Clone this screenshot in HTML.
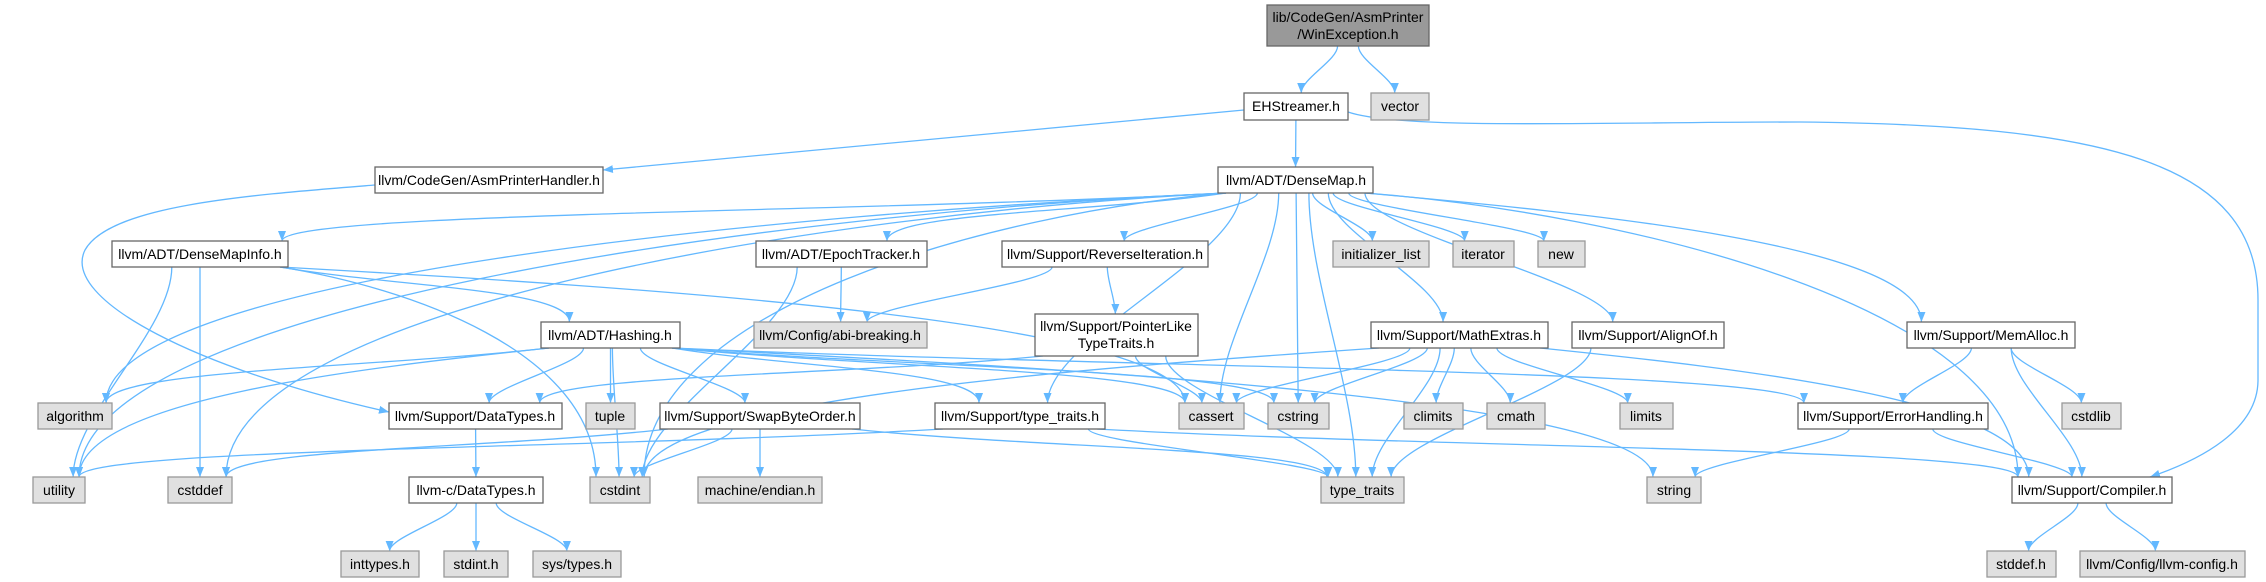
<!DOCTYPE html>
<html><head><meta charset="utf-8"><style>
html,body{margin:0;padding:0;background:#fff;}
svg{display:block;}
text{font-family:"Liberation Sans",Arial,sans-serif;font-size:14px;fill:#000;text-anchor:middle;}
.n{fill:#fff;stroke:#666;stroke-width:1.3;}
.x{fill:#e0e0e0;stroke:#999;stroke-width:1.3;}
.r{fill:#999;stroke:#666;stroke-width:1.3;}
.e{fill:none;stroke:#63b8ff;stroke-width:1.3;}
</style></head><body>
<svg id="g" width="2266" height="582" viewBox="0 0 2266 582" xmlns="http://www.w3.org/2000/svg">
<defs><marker id="a" viewBox="0 0 10 10" refX="10" refY="5" markerWidth="10" markerHeight="10" markerUnits="userSpaceOnUse" orient="auto"><path d="M0,1 L10,5 L0,9 z" fill="#63b8ff"/></marker></defs>
<g id="edges"></g>
<g id="nodes">
<rect class="r" x="1267" y="5" width="162" height="41"/><text x="1348" y="22">lib/CodeGen/AsmPrinter</text><text x="1348" y="39">/WinException.h</text>
<rect class="n" x="1244" y="93" width="104" height="27"/><text x="1296" y="111">EHStreamer.h</text>
<rect class="x" x="1371" y="93" width="58" height="27"/><text x="1400" y="111">vector</text>
<rect class="n" x="375" y="167" width="228" height="26"/><text x="489" y="185">llvm/CodeGen/AsmPrinterHandler.h</text>
<rect class="n" x="1218" y="167" width="155" height="26"/><text x="1296" y="185">llvm/ADT/DenseMap.h</text>
<rect class="n" x="112" y="241" width="176" height="26"/><text x="200" y="259">llvm/ADT/DenseMapInfo.h</text>
<rect class="n" x="756" y="241" width="171" height="26"/><text x="841" y="259">llvm/ADT/EpochTracker.h</text>
<rect class="n" x="1002" y="241" width="206" height="26"/><text x="1105" y="259">llvm/Support/ReverseIteration.h</text>
<rect class="x" x="1333" y="241" width="96" height="26"/><text x="1381" y="259">initializer_list</text>
<rect class="x" x="1453" y="241" width="61" height="26"/><text x="1483" y="259">iterator</text>
<rect class="x" x="1538" y="241" width="47" height="26"/><text x="1561" y="259">new</text>
<rect class="n" x="541" y="322" width="139" height="26"/><text x="610" y="340">llvm/ADT/Hashing.h</text>
<rect class="x" x="754" y="322" width="173" height="26"/><text x="840" y="340">llvm/Config/abi-breaking.h</text>
<rect class="n" x="1035" y="314" width="163" height="42"/><text x="1116" y="331">llvm/Support/PointerLike</text><text x="1116" y="348">TypeTraits.h</text>
<rect class="n" x="1371" y="322" width="177" height="26"/><text x="1459" y="340">llvm/Support/MathExtras.h</text>
<rect class="n" x="1572" y="322" width="152" height="26"/><text x="1648" y="340">llvm/Support/AlignOf.h</text>
<rect class="n" x="1907" y="322" width="168" height="26"/><text x="1991" y="340">llvm/Support/MemAlloc.h</text>
<rect class="x" x="38" y="403" width="74" height="26"/><text x="75" y="421">algorithm</text>
<rect class="n" x="389" y="403" width="173" height="26"/><text x="475" y="421">llvm/Support/DataTypes.h</text>
<rect class="x" x="586" y="403" width="49" height="26"/><text x="610" y="421">tuple</text>
<rect class="n" x="660" y="403" width="200" height="26"/><text x="760" y="421">llvm/Support/SwapByteOrder.h</text>
<rect class="n" x="935" y="403" width="170" height="26"/><text x="1020" y="421">llvm/Support/type_traits.h</text>
<rect class="x" x="1179" y="403" width="65" height="26"/><text x="1211" y="421">cassert</text>
<rect class="x" x="1268" y="403" width="61" height="26"/><text x="1298" y="421">cstring</text>
<rect class="x" x="1404" y="403" width="59" height="26"/><text x="1433" y="421">climits</text>
<rect class="x" x="1487" y="403" width="58" height="26"/><text x="1516" y="421">cmath</text>
<rect class="x" x="1620" y="403" width="53" height="26"/><text x="1646" y="421">limits</text>
<rect class="n" x="1798" y="403" width="190" height="26"/><text x="1893" y="421">llvm/Support/ErrorHandling.h</text>
<rect class="x" x="2062" y="403" width="59" height="26"/><text x="2091" y="421">cstdlib</text>
<rect class="x" x="33" y="477" width="52" height="26"/><text x="59" y="495">utility</text>
<rect class="x" x="168" y="477" width="64" height="26"/><text x="200" y="495">cstddef</text>
<rect class="n" x="409" y="477" width="134" height="26"/><text x="476" y="495">llvm-c/DataTypes.h</text>
<rect class="x" x="590" y="477" width="60" height="26"/><text x="620" y="495">cstdint</text>
<rect class="x" x="698" y="477" width="124" height="26"/><text x="760" y="495">machine/endian.h</text>
<rect class="x" x="1321" y="477" width="83" height="26"/><text x="1362" y="495">type_traits</text>
<rect class="x" x="1647" y="477" width="54" height="26"/><text x="1674" y="495">string</text>
<rect class="n" x="2012" y="477" width="160" height="26"/><text x="2092" y="495">llvm/Support/Compiler.h</text>
<rect class="x" x="341" y="551" width="78" height="26"/><text x="380" y="569">inttypes.h</text>
<rect class="x" x="444" y="551" width="64" height="26"/><text x="476" y="569">stdint.h</text>
<rect class="x" x="533" y="551" width="88" height="26"/><text x="577" y="569">sys/types.h</text>
<rect class="x" x="1987" y="551" width="69" height="26"/><text x="2021" y="569">stddef.h</text>
<rect class="x" x="2080" y="551" width="165" height="26"/><text x="2162" y="569">llvm/Config/llvm-config.h</text>
</g>
</svg>
<script>
var N={root:[1267,5,1429,46],EH:[1244,93,1348,120],vector:[1371,93,1429,120],APH:[375,167,603,193],DM:[1218,167,1373,193],
DMI:[112,241,288,267],Ep:[756,241,927,267],RI:[1002,241,1208,267],init:[1333,241,1429,267],iter:[1453,241,1514,267],nw:[1538,241,1585,267],
Ha:[541,322,680,348],abi:[754,322,927,348],PL:[1035,314,1198,356],ME:[1371,322,1548,348],AO:[1572,322,1724,348],MA:[1907,322,2075,348],
alg:[38,403,112,429],DT:[389,403,562,429],tup:[586,403,635,429],SB:[660,403,860,429],TTh:[935,403,1105,429],cas:[1179,403,1244,429],cst:[1268,403,1329,429],
cli:[1404,403,1463,429],cm:[1487,403,1545,429],lim:[1620,403,1673,429],EHd:[1798,403,1988,429],cstl:[2062,403,2121,429],
ut:[33,477,85,503],cdd:[168,477,232,503],cDT:[409,477,543,503],cint:[590,477,650,503],end:[698,477,822,503],TT:[1321,477,1404,503],str:[1647,477,1701,503],Co:[2012,477,2172,503],
inty:[341,551,419,577],sint:[444,551,508,577],sys:[533,551,621,577],sdd:[1987,551,2056,577],lc:[2080,551,2245,577]};
var E=[["root","EH"],["root","vector"],["EH","DM"],["EH","APH"],["DM","DMI"],["DM","Ep"],["DM","RI"],["DM","init"],["DM","iter"],["DM","nw"],
["DM","ut"],["DM","alg"],["DM","cdd"],["DM","TTh"],["DM","cas"],["DM","cst"],["DM","ME"],["DM","AO"],["DM","MA"],["DM","TT"],["DM","Co"],["DM","cint"],
["DMI","Ha"],["DMI","ut"],["DMI","cdd"],["DMI","cint"],["DMI","cas"],["Ep","abi"],["Ep","cint"],["RI","abi"],["RI","PL"],
["PL","DT"],["PL","cas"],["PL","TT"],["Ha","alg"],["Ha","ut"],["Ha","DT"],["Ha","tup"],["Ha","SB"],["Ha","TTh"],["Ha","cas"],["Ha","cst"],["Ha","EHd"],["Ha","str"],["Ha","cint"],
["SB","cdd"],["SB","cint"],["SB","end"],["SB","TT"],["TTh","ut"],["TTh","TT"],["TTh","Co"],["DT","cDT"],["cDT","inty"],["cDT","sint"],["cDT","sys"],
["ME","cas"],["ME","cst"],["ME","cint"],["ME","cli"],["ME","cm"],["ME","lim"],["ME","TT"],["ME","Co"],["AO","TT"],["MA","EHd"],["MA","cstl"],["MA","Co"],
["EHd","str"],["EHd","Co"],["Co","sdd"],["Co","lc"],["APH","DT"]];
var s="";
function cl(v,a,b){return Math.max(a,Math.min(b,v));}
E.forEach(function(e){var a=N[e[0]],b=N[e[1]];
var ac=(a[0]+a[2])/2,bc=(b[0]+b[2])/2;
var d;
if(e[0]=="EH"&&e[1]=="APH"){d="M1244,110 L603,170";}
else if(e[0]=="APH"){d="M375,185 C250,195 110,205 85,250 C60,300 200,370 389,412";}
else if(b[1]-a[3]<5){ // same row or upward
var sx=ac>bc?a[0]:a[2],tx=ac>bc?b[2]:b[0];var sy=(a[1]+a[3])/2,ty=(b[1]+b[3])/2;d="M"+sx+","+sy+" C"+(sx+tx)/2+","+sy+" "+(sx+tx)/2+","+ty+" "+tx+","+ty;}
else{var sx=cl(ac+(bc-ac)*0.2,a[0]+8,a[2]-8),tx=cl(bc+(ac-bc)*0.1,b[0]+6,b[2]-6);
var sy=a[3],ty=b[1];var my=(sy+ty)/2;
if(Math.abs(bc-ac)>400){d="M"+sx+","+sy+" C"+(sx+(tx-sx)*0.4)+","+(sy+20)+" "+tx+","+(ty-(ty-sy)*0.6)+" "+tx+","+ty;}
else d="M"+sx+","+sy+" C"+sx+","+(sy+(ty-sy)*0.3)+" "+tx+","+(ty-(ty-sy)*0.3)+" "+tx+","+ty;}
s+='<path class="e" marker-end="url(#a)" d="'+d+'"/>';});
s+='<path class="e" marker-end="url(#a)" d="M1348,112 C1400,130 1600,122 1800,122 C2100,125 2258,160 2258,300 L2258,380 C2258,430 2200,460 2150,477"/>';
document.getElementById("edges").innerHTML=s;
</script>
</body></html>
